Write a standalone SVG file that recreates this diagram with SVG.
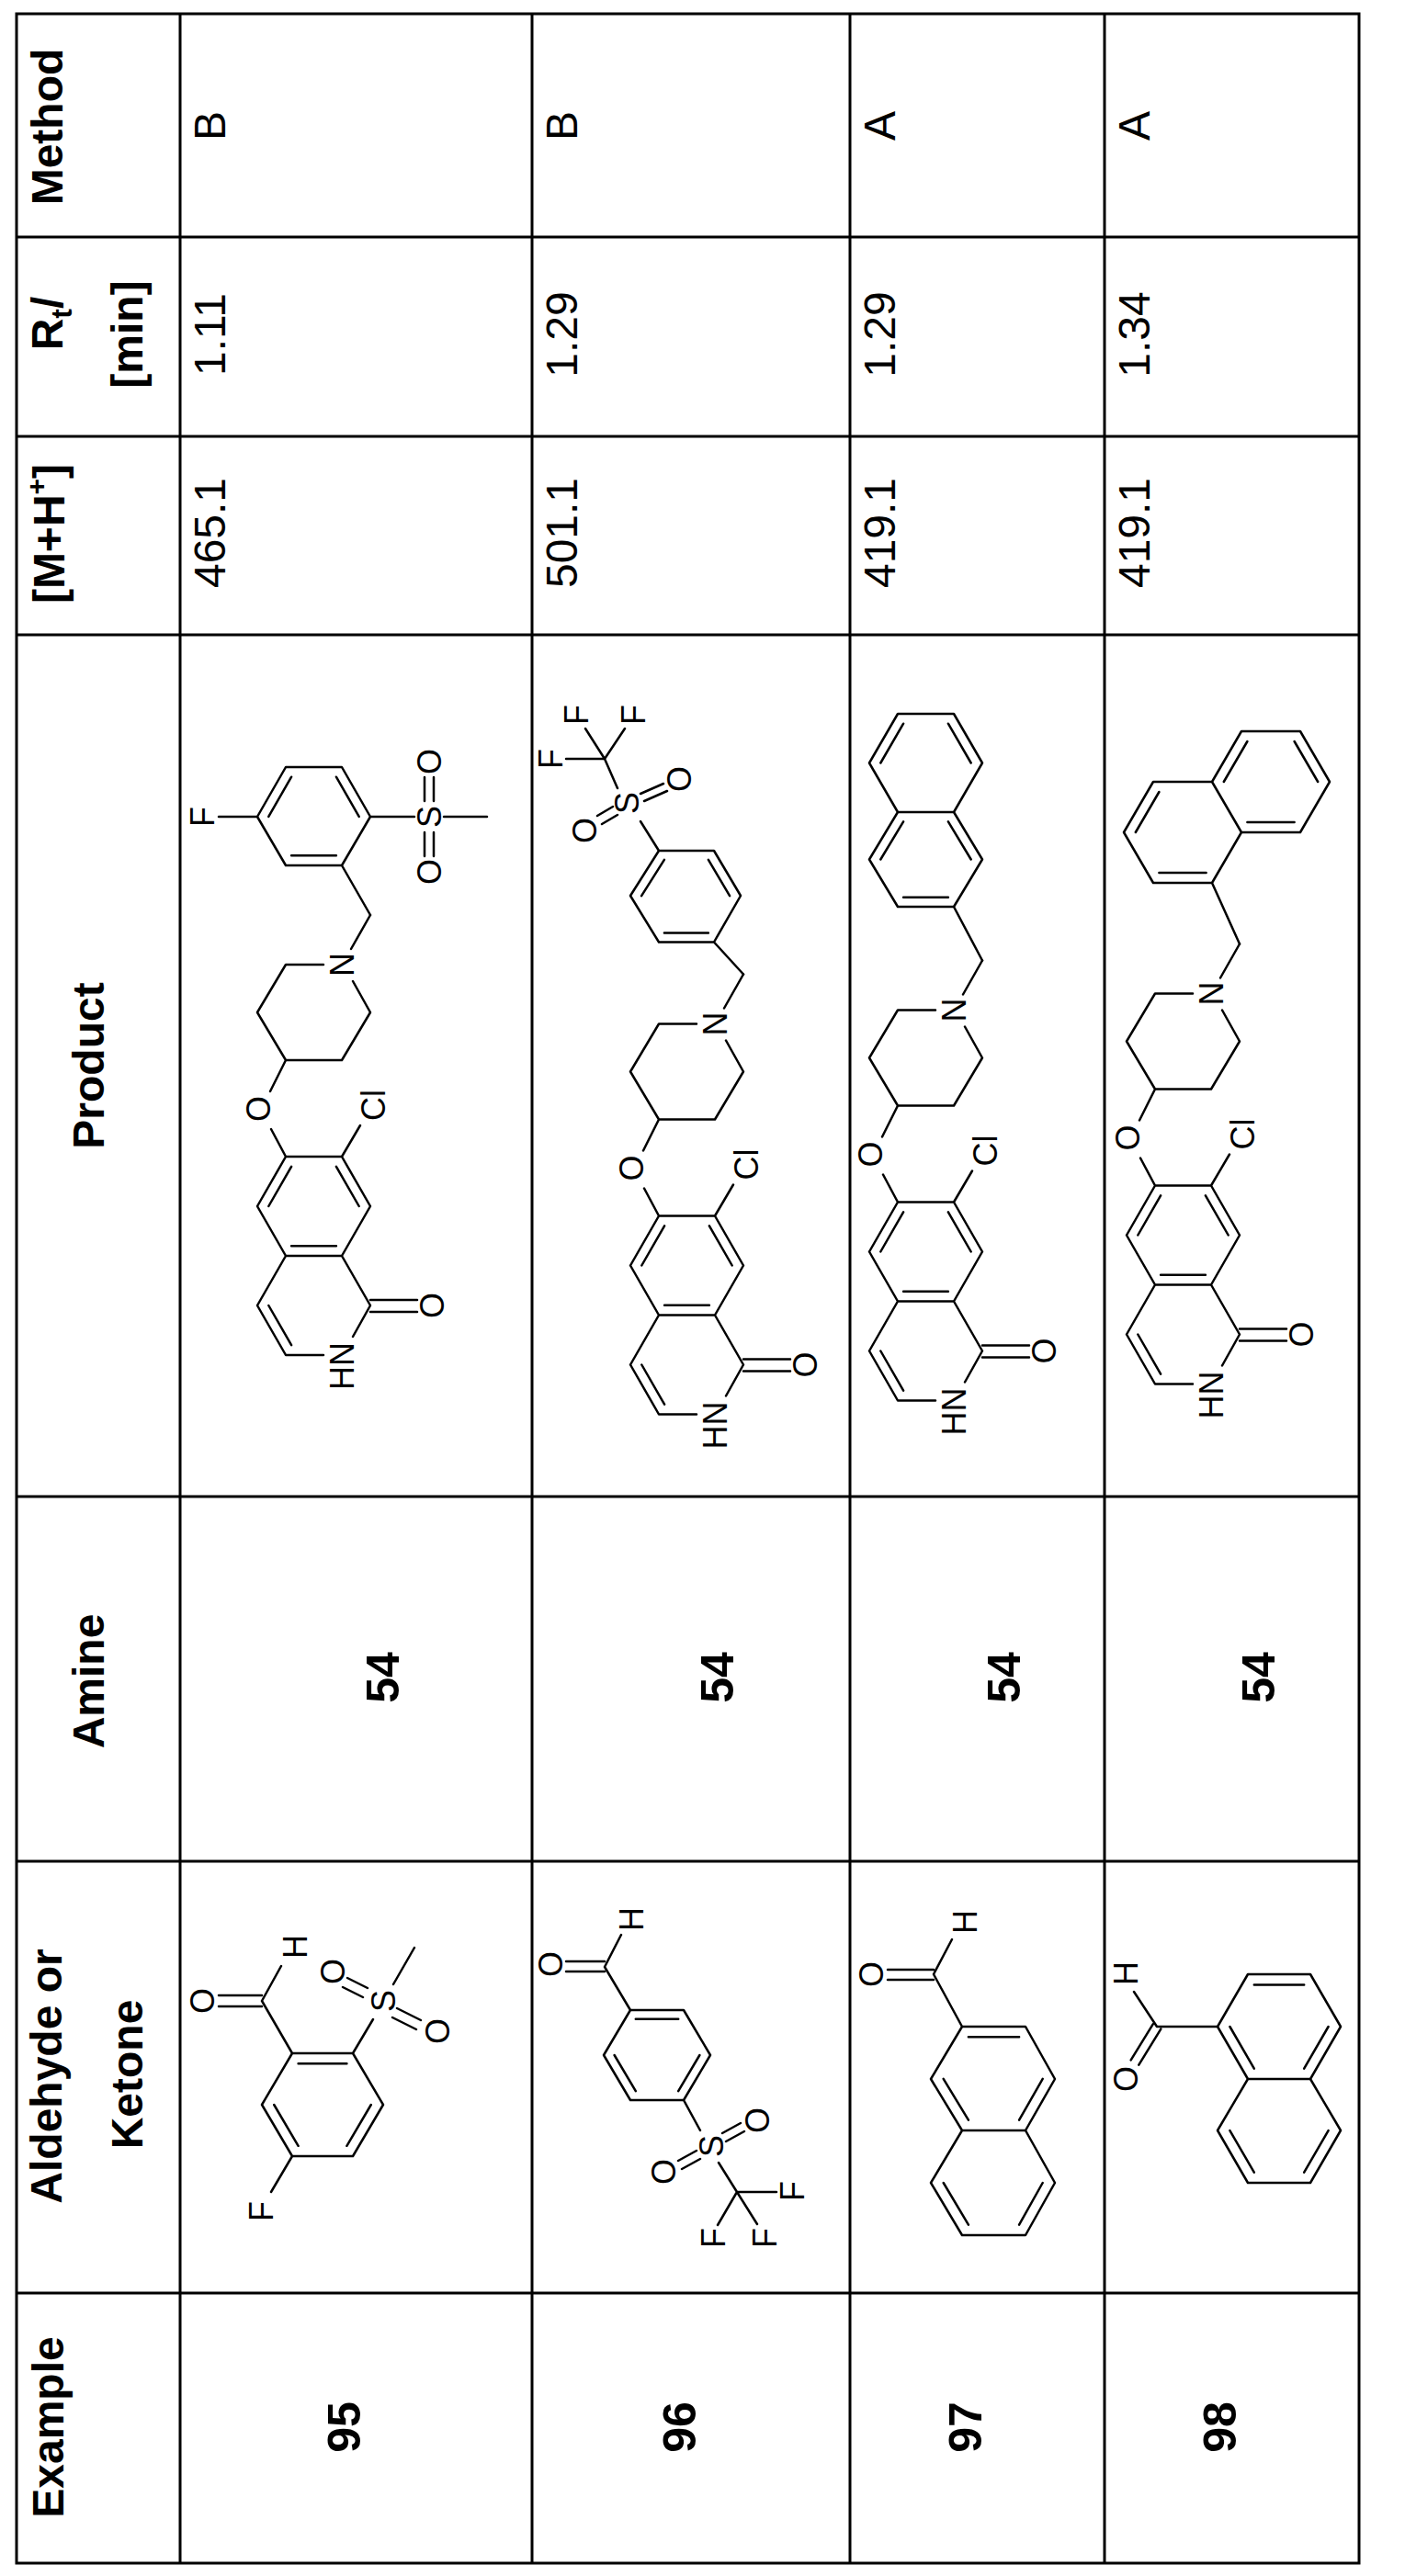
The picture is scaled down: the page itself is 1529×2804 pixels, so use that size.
<svg xmlns="http://www.w3.org/2000/svg" xmlns:xlink="http://www.w3.org/1999/xlink" width="1529" height="2804" viewBox="0 0 1529 2804">
<style>
.g{stroke:#000;stroke-width:3;fill:none}
.b{stroke:#000;stroke-width:2.5;fill:none;stroke-linecap:round;stroke-linejoin:round}
.h{font-family:"Liberation Sans",Arial,sans-serif;font-weight:bold;font-size:48px;text-anchor:middle}
.d{font-family:"Liberation Sans",Arial,sans-serif;font-size:48px;text-anchor:middle}
.n{font-family:"Liberation Sans",Arial,sans-serif;font-weight:bold;font-size:50px;text-anchor:middle}
.a{font-family:"Liberation Sans",Arial,sans-serif;font-size:36px;text-anchor:middle}
</style>
<defs>
<g id="core">
<path class="b" d="M311,1259 L372,1259 L403,1313 L372,1367 L311,1367 L280,1313 Z M372,1367 L403,1421 L384,1455 M352,1475 L311,1475 L280,1421 L311,1367 M292.3,1313 L317.1,1269.8 M365.9,1269.8 L390.7,1313 M365.9,1356.2 L317.1,1356.2 M292.3,1421 L317.1,1464.2 M403,1415 L454,1415 M403,1428 L454,1428 M311,1259 L295,1229 M294,1188 L311,1154 M311,1154 L372,1154 L403,1102 L384,1068 M352,1050 L311,1050 L280,1102 L311,1154 M382,1033 L403,996 M372,1259 L392,1225"/>
<text class="a" transform="translate(372,1461) rotate(-90)" dy="0.35em" style="text-anchor:end">HN</text>
<text class="a" transform="translate(470,1421) rotate(-90)" dy="0.35em">O</text>
<text class="a" transform="translate(281,1207) rotate(-90)" dy="0.35em">O</text>
<text class="a" transform="translate(372,1050) rotate(-90)" dy="0.35em">N</text>
<text class="a" transform="translate(406,1203) rotate(-90)" dy="0.35em">Cl</text>
</g>
</defs>
<g id="grid">
<rect class="g" x="18" y="15" width="1461" height="2775"/>
<path class="g" d="M18,258H1479M18,475H1479M18,691H1479M18,1629H1479M18,2026H1479M18,2496H1479M196,15V2790M579,15V2790M925,15V2790M1202,15V2790"/>
</g>
<g id="header">
<text class="h" transform="translate(68,138) rotate(-90)">Method</text>
<text class="h" transform="translate(68,352) rotate(-90)">R<tspan font-size="32" dy="10">t</tspan><tspan dy="-10">/</tspan></text>
<text class="h" transform="translate(155,364) rotate(-90)">[min]</text>
<text class="h" transform="translate(70,581) rotate(-90)">[M+H<tspan font-size="30" dy="-20">+</tspan><tspan dy="20">]</tspan></text>
<text class="h" transform="translate(113,1160) rotate(-90)">Product</text>
<text class="h" transform="translate(113,1830) rotate(-90)">Amine</text>
<text class="h" transform="translate(67,2260) rotate(-90)">Aldehyde or</text>
<text class="h" transform="translate(155,2258) rotate(-90)">Ketone</text>
<text class="h" transform="translate(69,2642) rotate(-90)">Example</text>
</g>
<g id="row95">
<text class="d" transform="translate(245,137) rotate(-90)">B</text>
<text class="d" transform="translate(245,364) rotate(-90)">1.11</text>
<text class="d" transform="translate(245,580) rotate(-90)">465.1</text>
<text class="n" transform="translate(434,1826) rotate(-90)">54</text>
<text class="n" transform="translate(392,2642) rotate(-90)">95</text>
<g id="product95">
<use xlink:href="#core" href="#core"/>
<path class="b" d="M403,996 L372,942 M372,942 L311,942 L280,889 L311,835 L372,835 L403,889 Z M292.3,888.9 L317.1,845.7 M365.9,845.7 L390.7,888.9 M365.9,931.3 L317.1,931.3 M280,889 L238,889 M403,889 L451,889 M462,872 L462,846 M472,872 L472,846 M462,906 L462,932 M472,906 L472,932 M483,889 L530,889"/>
<text class="a" transform="translate(220,889) rotate(-90)" dy="0.35em">F</text>
<text class="a" transform="translate(467,889) rotate(-90)" dy="0.35em">S</text>
<text class="a" transform="translate(467,829) rotate(-90)" dy="0.35em">O</text>
<text class="a" transform="translate(467,949) rotate(-90)" dy="0.35em">O</text>
</g>
<g id="aldehyde95">
<path class="b" d="M318,2235 L384,2235 L417,2291 L384,2347 L318,2347 L285,2291 Z M324.6,2246.2 L377.4,2246.2 M324.6,2335.8 L298.2,2291 M403.8,2291 L377.4,2335.8 M318,2235 L285,2178 M238,2172 L285,2172 M238,2184 L285,2184 M285,2178 L306,2140 M384,2235 L406,2198 M400,2164 L378,2153 M395,2174 L373,2163 M432,2186 L458,2199 M427,2196 L453,2209 M428,2160 L451,2120 M318,2347 L295,2386"/>
<text class="a" transform="translate(220,2178) rotate(-90)" dy="0.35em">O</text>
<text class="a" transform="translate(321,2119) rotate(-90)" dy="0.35em">H</text>
<text class="a" transform="translate(417,2178) rotate(-90)" dy="0.35em">S</text>
<text class="a" transform="translate(362,2146) rotate(-90)" dy="0.35em">O</text>
<text class="a" transform="translate(476,2211) rotate(-90)" dy="0.35em">O</text>
<text class="a" transform="translate(284,2407) rotate(-90)" dy="0.35em">F</text>
</g>
</g>
<g id="row96">
<text class="d" transform="translate(628,137) rotate(-90)">B</text>
<text class="d" transform="translate(628,364) rotate(-90)">1.29</text>
<text class="d" transform="translate(628,580) rotate(-90)">501.1</text>
<text class="n" transform="translate(798,1826) rotate(-90)">54</text>
<text class="n" transform="translate(757,2642) rotate(-90)">96</text>
<g id="product96">
<use xlink:href="#core" href="#core" transform="translate(406,64.5)"/>
<path class="b" d="M809,1060.5 L777,1025.5 M777,1025.5 L717,1025.5 L686,975 L717,926 L777,926 L806,975 Z M698.1,975.1 L722.9,935.9 M770.9,935.9 L794.1,975.1 M770.9,1015.5 L722.9,1015.5 M717,926 L697,894 M667,878 L650,888 M672,887 L655,897 M697,864 L722,853 M701,872 L726,861 M672,858 L658,826 L616,826 M658,826 L637,793 M658,826 L680,793"/>
<text class="a" transform="translate(682,874) rotate(-90)" dy="0.35em">S</text>
<text class="a" transform="translate(636,904) rotate(-90)" dy="0.35em">O</text>
<text class="a" transform="translate(739,848) rotate(-90)" dy="0.35em">O</text>
<text class="a" transform="translate(599,826) rotate(-90)" dy="0.35em">F</text>
<text class="a" transform="translate(627,778) rotate(-90)" dy="0.35em">F</text>
<text class="a" transform="translate(689,778) rotate(-90)" dy="0.35em">F</text>
</g>
<g id="aldehyde96">
<path class="b" d="M686,2188 L744,2188 L773,2237 L744,2286 L686,2286 L657,2237 Z M691.8,2197.8 L738.2,2197.8 M691.8,2276.2 L668.6,2237 M761.4,2237 L738.2,2276.2 M686,2188 L658,2141 M616,2135 L658,2135 M616,2146 L658,2146 M658,2141 L676,2106 M744,2286 L762,2319 M758,2341 L738,2352 M762,2350 L742,2361 M786,2322 L806,2311 M790,2331 L810,2320 M782,2354 L802,2386 L845,2386 M802,2386 L781,2422 M802,2386 L824,2421"/>
<text class="a" transform="translate(599,2138) rotate(-90)" dy="0.35em">O</text>
<text class="a" transform="translate(687,2089) rotate(-90)" dy="0.35em">H</text>
<text class="a" transform="translate(774,2336) rotate(-90)" dy="0.35em">S</text>
<text class="a" transform="translate(722,2364) rotate(-90)" dy="0.35em">O</text>
<text class="a" transform="translate(824,2308) rotate(-90)" dy="0.35em">O</text>
<text class="a" transform="translate(862,2385) rotate(-90)" dy="0.35em">F</text>
<text class="a" transform="translate(776,2436) rotate(-90)" dy="0.35em">F</text>
<text class="a" transform="translate(832,2436) rotate(-90)" dy="0.35em">F</text>
</g>
</g>
<g id="row97">
<text class="d" transform="translate(974,137) rotate(-90)">A</text>
<text class="d" transform="translate(974,364) rotate(-90)">1.29</text>
<text class="d" transform="translate(974,580) rotate(-90)">419.1</text>
<text class="n" transform="translate(1110,1826) rotate(-90)">54</text>
<text class="n" transform="translate(1068,2642) rotate(-90)">97</text>
<g id="product97">
<use xlink:href="#core" href="#core" transform="translate(666,49.5)"/>
<path class="b" d="M1069,1045.5 L1038,987 M1038,987 L977,987 L946,935.5 L977,884 L1038,884 L1069,935.5 Z M977,884 L946,830.5 L977,777 L1038,777 L1069,830.5 L1038,884 M958.3,935.5 L983.1,894.3 M1031.9,894.3 L1056.7,935.5 M1031.9,976.7 L983.1,976.7 M958.3,830.5 L983.1,787.7 M1031.9,787.7 L1056.7,830.5"/>
</g>
<g id="aldehyde97">
<path class="b" d="M1047,2206 L1116,2206 L1148,2263 L1116,2319 L1047,2319 L1013,2263 Z M1116,2319 L1148,2376 L1116,2433 L1047,2433 L1013,2376 L1047,2319 M1053.9,2217.3 L1109.1,2217.3 M1053.9,2307.7 L1026.7,2262.9 M1134.7,2262.9 L1109.1,2307.7 M1026.7,2376 L1053.9,2421.6 M1134.7,2376 L1109.1,2421.6 M1047,2206 L1016,2149 M966,2144 L1016,2144 M966,2155 L1016,2155 M1016,2149 L1036,2111"/>
<text class="a" transform="translate(948,2149) rotate(-90)" dy="0.35em">O</text>
<text class="a" transform="translate(1050,2092) rotate(-90)" dy="0.35em">H</text>
</g>
</g>
<g id="row98">
<text class="d" transform="translate(1251,137) rotate(-90)">A</text>
<text class="d" transform="translate(1251,364) rotate(-90)">1.34</text>
<text class="d" transform="translate(1251,580) rotate(-90)">419.1</text>
<text class="n" transform="translate(1387,1826) rotate(-90)">54</text>
<text class="n" transform="translate(1345,2642) rotate(-90)">98</text>
<g id="product98">
<use xlink:href="#core" href="#core" transform="translate(946,31.5)"/>
<path class="b" d="M1349,1027.5 L1319,961 M1319,961 L1255,961 L1223,906 L1255,851 L1319,851 L1351,906 Z M1319,851 L1351,796 L1415,796 L1447,851 L1415,906 L1351,906 M1235.8,906 L1261.4,862 M1312.6,950 L1261.4,950 M1331.8,851 L1357.4,807 M1408.6,807 L1434.2,851 M1408.6,895 L1357.4,895"/>
</g>
<g id="aldehyde98">
<path class="b" d="M1358,2149 L1426,2149 L1459,2206 L1426,2263 L1358,2263 L1325,2206 Z M1358,2263 L1325,2319 L1358,2376 L1426,2376 L1459,2319 L1426,2263 M1364.8,2160.4 L1419.2,2160.4 M1338.4,2206 L1364.8,2251.6 M1445.6,2206 L1419.2,2251.6 M1338.4,2319.1 L1364.8,2364.6 M1445.6,2319.1 L1419.2,2364.6 M1325,2206 L1259,2206 M1263.3,2208.6 L1239.3,2247.6 M1254.7,2203.4 L1230.7,2242.4 M1259,2206 L1234,2168"/>
<text class="a" transform="translate(1225,2263) rotate(-90)" dy="0.35em">O</text>
<text class="a" transform="translate(1225,2148) rotate(-90)" dy="0.35em">H</text>
</g>
</g>
</svg>
